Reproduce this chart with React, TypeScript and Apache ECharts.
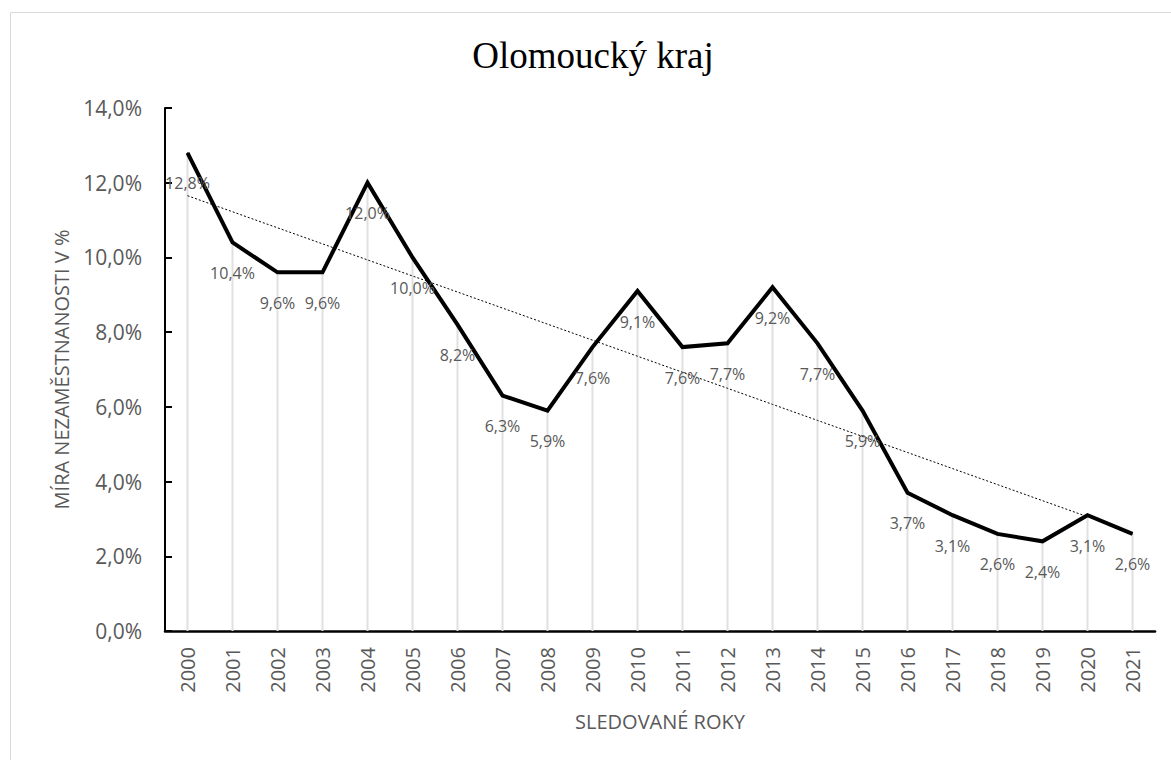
import React, { useEffect, useRef } from "react";
import * as echarts from "echarts";

const years = ["2000","2001","2002","2003","2004","2005","2006","2007","2008","2009","2010","2011","2012","2013","2014","2015","2016","2017","2018","2019","2020","2021"];
const rates = [12.8, 10.4, 9.6, 9.6, 12.0, 10.0, 8.2, 6.3, 5.9, 7.6, 9.1, 7.6, 7.7, 9.2, 7.7, 5.9, 3.7, 3.1, 2.6, 2.4, 3.1, 2.6];
const chartTitle = "Olomoucký kraj";
const yTitle = "MÍRA NEZAMĚSTNANOSTI V %";
const xTitle = "SLEDOVANÉ ROKY";

// linear trend (least squares), drawn through 2020 like the original
function trend(vals: number[]): (number | null)[] {
  const n = vals.length;
  const mx = (n - 1) / 2;
  const my = vals.reduce((a, b) => a + b, 0) / n;
  let sxy = 0, sxx = 0;
  vals.forEach((v, i) => { sxy += (i - mx) * (v - my); sxx += (i - mx) * (i - mx); });
  const b = sxy / sxx;
  const a = my - b * mx;
  return vals.map((_, i) => (i < n - 1 ? a + b * i : null));
}

const fmt = (v: number) => v.toFixed(1).replace(".", ",") + "%";
const FONT = "'Open Sans', 'Noto Sans', sans-serif";
const GREY = "#595959";

export default function App() {
  const ref = useRef<HTMLDivElement>(null);
  useEffect(() => {
    if (!ref.current) return;
    const chart = echarts.init(ref.current, null, { renderer: "svg" });
    chart.setOption({
      animation: false,
      backgroundColor: "#ffffff",
      graphic: [
        { type: "rect", z: -10, shape: { x: 10.5, y: 12.5, width: 1300, height: 900 }, style: { fill: "none", stroke: "#d9d9d9", lineWidth: 1 } },
        { type: "text", x: 593, y: 55, style: { text: chartTitle, fontFamily: "'Liberation Serif', 'Times New Roman', serif", fontSize: 37, fill: "#000", textAlign: "center", textVerticalAlign: "middle" } },
      ],
      grid: { left: 165, right: 16, top: 108, bottom: 129, containLabel: false },
      xAxis: {
        type: "category",
        data: years,
        boundaryGap: true,
        axisLine: { lineStyle: { color: "#000", width: 2.5 } },
        axisTick: { show: false },
        axisLabel: { rotate: 90, fontSize: 20, color: GREY, fontFamily: FONT, margin: 16 },
        name: xTitle,
        nameLocation: "middle",
        nameGap: 80,
        nameTextStyle: { fontSize: 20, color: GREY, fontFamily: FONT },
      },
      yAxis: {
        type: "value",
        min: 0,
        max: 14,
        interval: 2,
        axisLine: { show: true, lineStyle: { color: "#000", width: 2 } },
        axisTick: { show: true, inside: true, length: 7, lineStyle: { color: "#000", width: 2 } },
        splitLine: { show: false },
        axisLabel: { fontSize: 21, color: GREY, fontFamily: FONT, margin: 23, formatter: (v: number) => fmt(v) },
        name: yTitle,
        nameLocation: "middle",
        nameGap: 94,
        nameRotate: 90,
        nameTextStyle: { fontSize: 20, color: GREY, fontFamily: FONT },
      },
      series: [
        {
          type: "bar",
          data: rates,
          barWidth: 2,
          silent: true,
          itemStyle: { color: "#e0e0e0" },
          z: 1,
        },
        {
          type: "line",
          data: trend(rates),
          symbol: "none",
          silent: true,
          lineStyle: { color: "#000", width: 1, type: [2, 2] },
          z: 2,
        },
        {
          type: "line",
          data: rates,
          symbol: "circle",
          symbolSize: 1,
          itemStyle: { color: "#000" },
          lineStyle: { color: "#000", width: 4, join: "miter" },
          label: { show: true, position: "bottom", distance: 22, fontSize: 16, color: GREY, fontFamily: FONT, formatter: (p: any) => fmt(p.value) },
          z: 3,
        },
      ],
    });
    return () => chart.dispose();
  }, []);
  return <div ref={ref} style={{ position: "absolute", left: 0, top: 0, width: 1171, height: 760 }} />;
}
